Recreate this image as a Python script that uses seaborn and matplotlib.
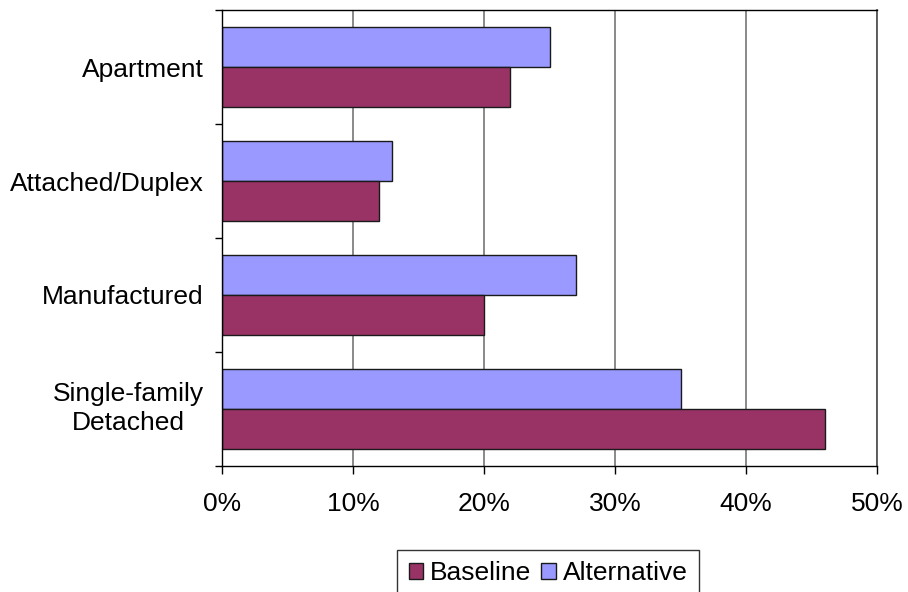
import matplotlib
matplotlib.use("Agg")
import matplotlib.pyplot as plt
import matplotlib.transforms as mtransforms
from matplotlib.patches import Patch
import pandas as pd
import seaborn as sns

# Housing type shares under the two scenarios (percent)
categories = ["Apartment", "Attached/Duplex", "Manufactured", "Single-family\nDetached"]
baseline = [22, 12, 20, 46]
alternative = [25, 13, 27, 35]
x_ticks = [0, 10, 20, 30, 40, 50]
x_tick_labels = ["0%", "10%", "20%", "30%", "40%", "50%"]

series_names = ["Baseline", "Alternative"]
colors = {"Baseline": "#993366", "Alternative": "#9999FF"}

df = pd.DataFrame({
    "category": categories * 2,
    "value": baseline + alternative,
    "scenario": ["Baseline"] * len(categories) + ["Alternative"] * len(categories),
})

sns.set_theme(style="white")
plt.rcParams["font.family"] = ["Liberation Sans", "DejaVu Sans"]
plt.rcParams["text.color"] = "black"
plt.rcParams["xtick.color"] = "black"
plt.rcParams["ytick.color"] = "black"

fig = plt.figure(figsize=(9.08, 5.92), dpi=100)
ax = fig.add_axes([222 / 908, 1 - 466 / 592, (877 - 222) / 908, (466 - 10) / 592])

sns.barplot(
    data=df, y="category", x="value", hue="scenario",
    hue_order=["Alternative", "Baseline"], order=categories,
    palette=colors, orient="h", width=0.71,
    edgecolor="#1a1a1a", linewidth=1.0, saturation=1, legend=False, ax=ax,
)

ax.set_xlim(0, 50)
ax.set_ylim(len(categories) - 0.5, -0.5)
ax.set_xticks(x_ticks)
ax.set_xticklabels(x_tick_labels)
ax.set_xlabel("")
ax.set_ylabel("")

ax.set_axisbelow(True)
ax.xaxis.grid(True, color="#808080", linewidth=1.3)
ax.yaxis.grid(False)

for side in ["left", "bottom", "top"]:
    ax.spines[side].set_visible(True)
    ax.spines[side].set_color("black")
    ax.spines[side].set_linewidth(1.0)
ax.spines["right"].set_color("#555555")
ax.spines["right"].set_linewidth(1.3)

label_size = 19
ax.tick_params(axis="x", direction="out", length=6, width=1, color="black",
               pad=13, labelsize=label_size, labelcolor="black", bottom=True)
ax.tick_params(axis="y", which="major", length=0, pad=13, labelsize=label_size,
               labelcolor="black")
ax.set_yticks([i - 0.5 for i in range(len(categories) + 1)], minor=True)
ax.tick_params(axis="y", which="minor", direction="out", length=5, width=1,
               color="black", left=True)

# two-line label sits a little higher with tighter line spacing
lift = mtransforms.ScaledTranslation(0, 5 / 100, fig.dpi_scale_trans)
for lbl in ax.get_yticklabels():
    lbl.set_horizontalalignment("right")
    lbl.set_multialignment("center")
    if "\n" in lbl.get_text():
        lbl.set_linespacing(1.25)
        lbl.set_transform(lbl.get_transform() + lift)

handles = [Patch(facecolor=colors[n], edgecolor="#1a1a1a", linewidth=1.0, label=n)
           for n in series_names]
leg = fig.legend(
    handles=handles, loc="upper center", bbox_to_anchor=(548 / 908, 1 - 550 / 592),
    ncol=2, frameon=True, fancybox=False, fontsize=label_size,
    handlelength=0.55, handleheight=0.55, handletextpad=0.25, columnspacing=0.4,
    borderpad=0.42, borderaxespad=0,
)
leg.get_frame().set_edgecolor("black")
leg.get_frame().set_linewidth(1.0)
for t in leg.get_texts():
    t.set_color("black")

fig.savefig("out.png", dpi=100, facecolor="white")
